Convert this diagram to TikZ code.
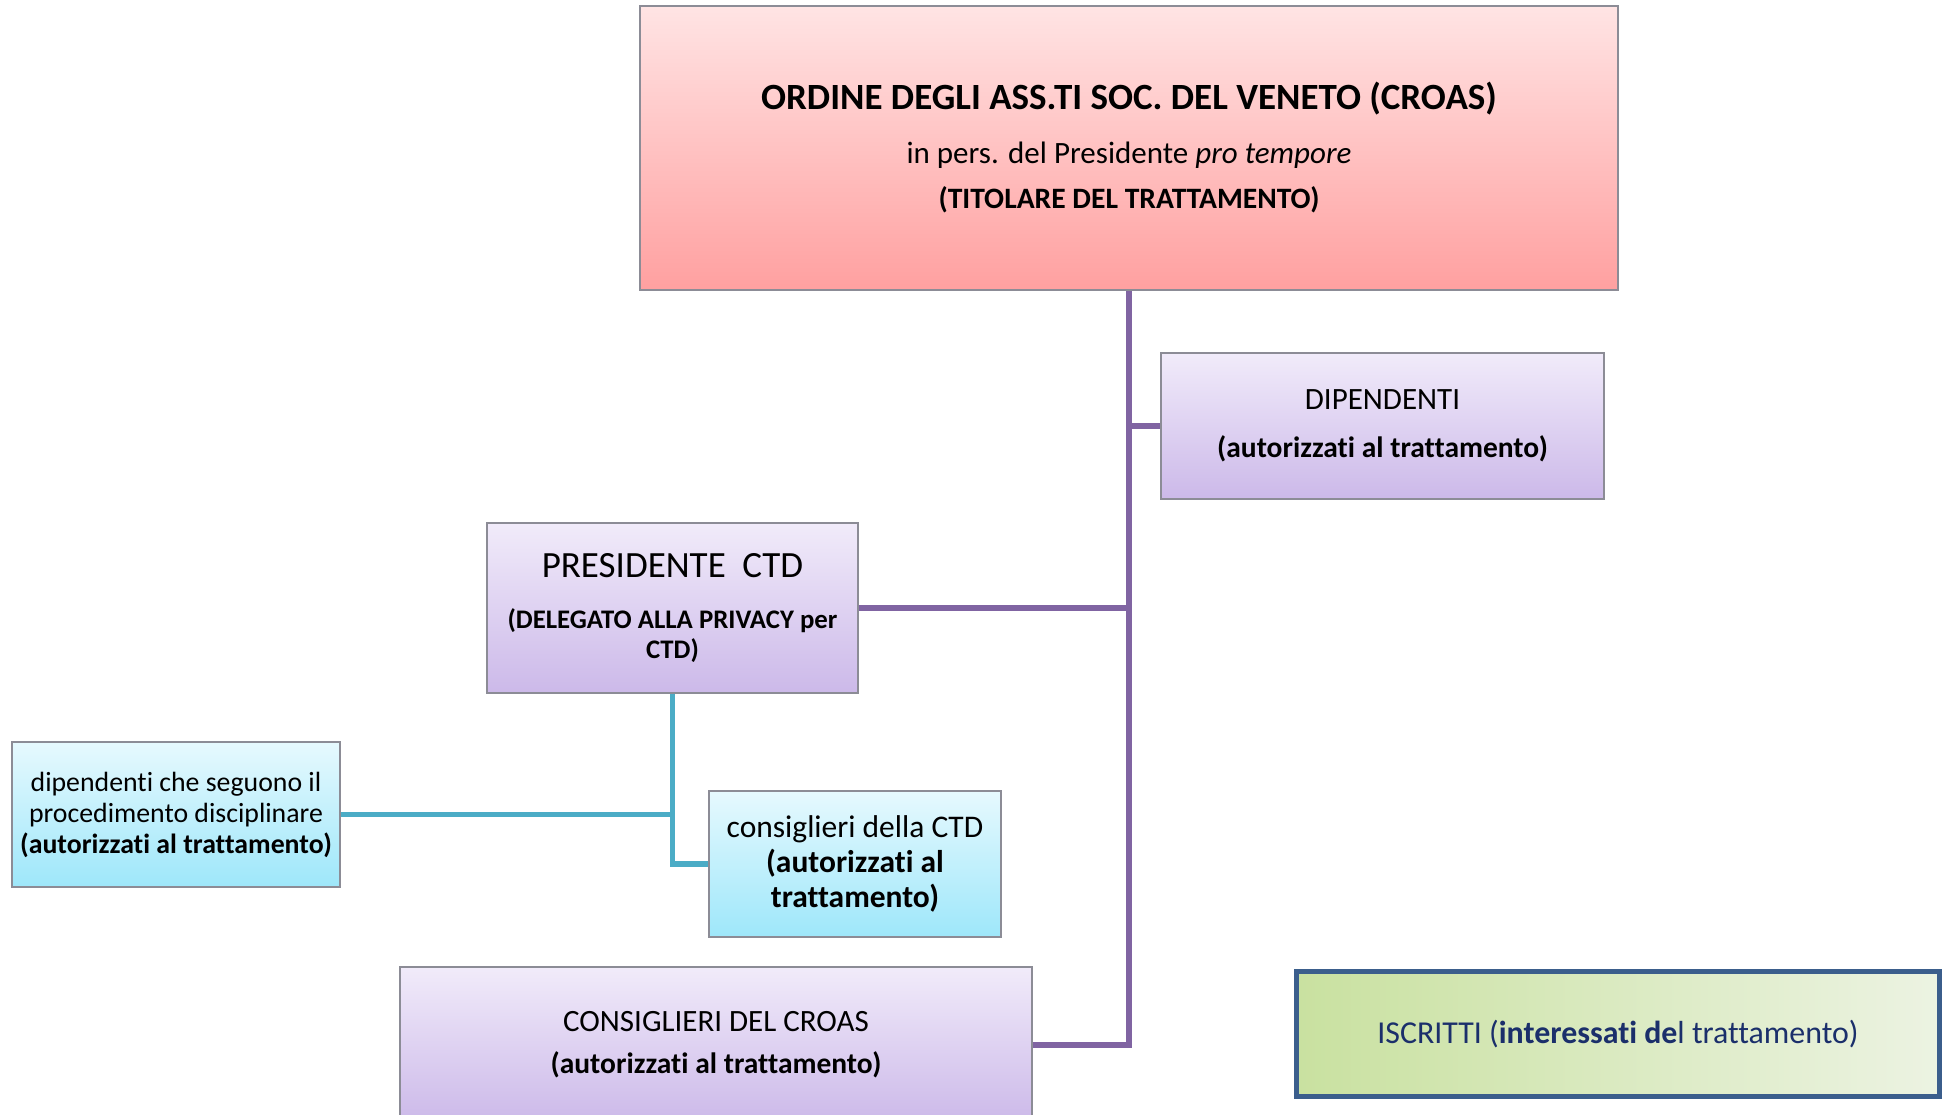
\documentclass[tikz,border=0pt]{standalone}
\usepackage{fontspec}
\setmainfont{Carlito}[Ligatures=NoCommon]
\usepackage{tikz}
\usetikzlibrary{positioning}
\definecolor{linepurple}{RGB}{128,100,162}
\definecolor{linecyan}{RGB}{75,172,198}
\definecolor{boxgray}{RGB}{140,140,150}
\definecolor{navytext}{RGB}{27,47,107}
\definecolor{navyborder}{RGB}{59,94,140}
\begin{document}
\begin{tikzpicture}[x=1pt,y=-1pt,
  box/.style={draw=boxgray,line width=1.2pt,align=center,inner sep=0pt},
  redbox/.style={box,top color={rgb,255:red,255;green,228;blue,228},bottom color={rgb,255:red,255;green,160;blue,160}},
  lilacbox/.style={box,top color={rgb,255:red,241;green,235;blue,250},bottom color={rgb,255:red,204;green,185;blue,233}},
  aquabox/.style={box,top color={rgb,255:red,230;green,249;blue,254},bottom color={rgb,255:red,158;green,231;blue,250}},
  greenbox/.style={draw=navyborder,line width=5pt,align=center,inner sep=0pt,left color={rgb,255:red,201;green,225;blue,160},right color={rgb,255:red,236;green,243;blue,226},text=navytext},
  purpleline/.style={draw=linepurple,line width=5.5pt},
  cyanline/.style={draw=linecyan,line width=5.5pt}]
\useasboundingbox (0,0) rectangle (1943,1115);
\node[redbox,minimum width=978pt,minimum height=284pt,font=\fontsize{31}{45}\selectfont] (titolare) at (1129,148)
  {{\fontsize{37}{45}\selectfont\bfseries ORDINE DEGLI ASS.TI SOC. DEL VENETO (CROAS)}\\[9pt]
   in pers. del Presidente \textit{pro tempore}\\
   {\fontsize{29.6}{45}\selectfont\bfseries (TITOLARE DEL TRATTAMENTO)}};
\node[lilacbox,minimum width=443pt,minimum height=146pt,font=\fontsize{31}{48}\selectfont] (dipendenti) at (1382.5,426)
  {DIPENDENTI\\{\fontsize{29.5}{48}\selectfont\bfseries (autorizzati al trattamento)}};
\node[lilacbox,minimum width=371pt,minimum height=170pt,font=\fontsize{26.8}{30}\selectfont] (presidente) at (672.5,608)
  {{\fontsize{37}{30}\selectfont PRESIDENTE\ \ CTD}\\[21pt]
   \bfseries (DELEGATO ALLA PRIVACY per\\\bfseries CTD)};
\node[aquabox,minimum width=328pt,minimum height=145pt,font=\fontsize{27.8}{31}\selectfont] (dipctd) at (176,814.5)
  {dipendenti che seguono il\\procedimento disciplinare\\\textbf{(autorizzati al trattamento)}};
\node[aquabox,minimum width=292pt,minimum height=146pt,font=\fontsize{31.5}{35}\selectfont] (consctd) at (855,864)
  {consiglieri della CTD\\\textbf{(autorizzati al}\\\textbf{trattamento)}};
\node[lilacbox,minimum width=632pt,minimum height=156pt,font=\fontsize{31}{42}\selectfont] (consigli) at (716,1045)
  {CONSIGLIERI DEL CROAS\\{\fontsize{29.5}{42}\selectfont\bfseries (autorizzati al trattamento)}};
\node[greenbox,minimum width=643pt,minimum height=125pt,font=\fontsize{31.9}{38}\selectfont] (iscritti) at (1618,1034)
  {ISCRITTI (\textbf{interessati de}l trattamento)};
\draw[purpleline] (titolare.south) |- (consigli.east);
\draw[purpleline] (titolare.south |- dipendenti.west) -- (dipendenti.west);
\draw[purpleline] (presidente.east) -- (presidente.east -| titolare.south);
\draw[cyanline] (presidente.south) |- (consctd.west);
\draw[cyanline] (dipctd.east) -- (dipctd.east -| presidente.south);
\end{tikzpicture}
\end{document}
